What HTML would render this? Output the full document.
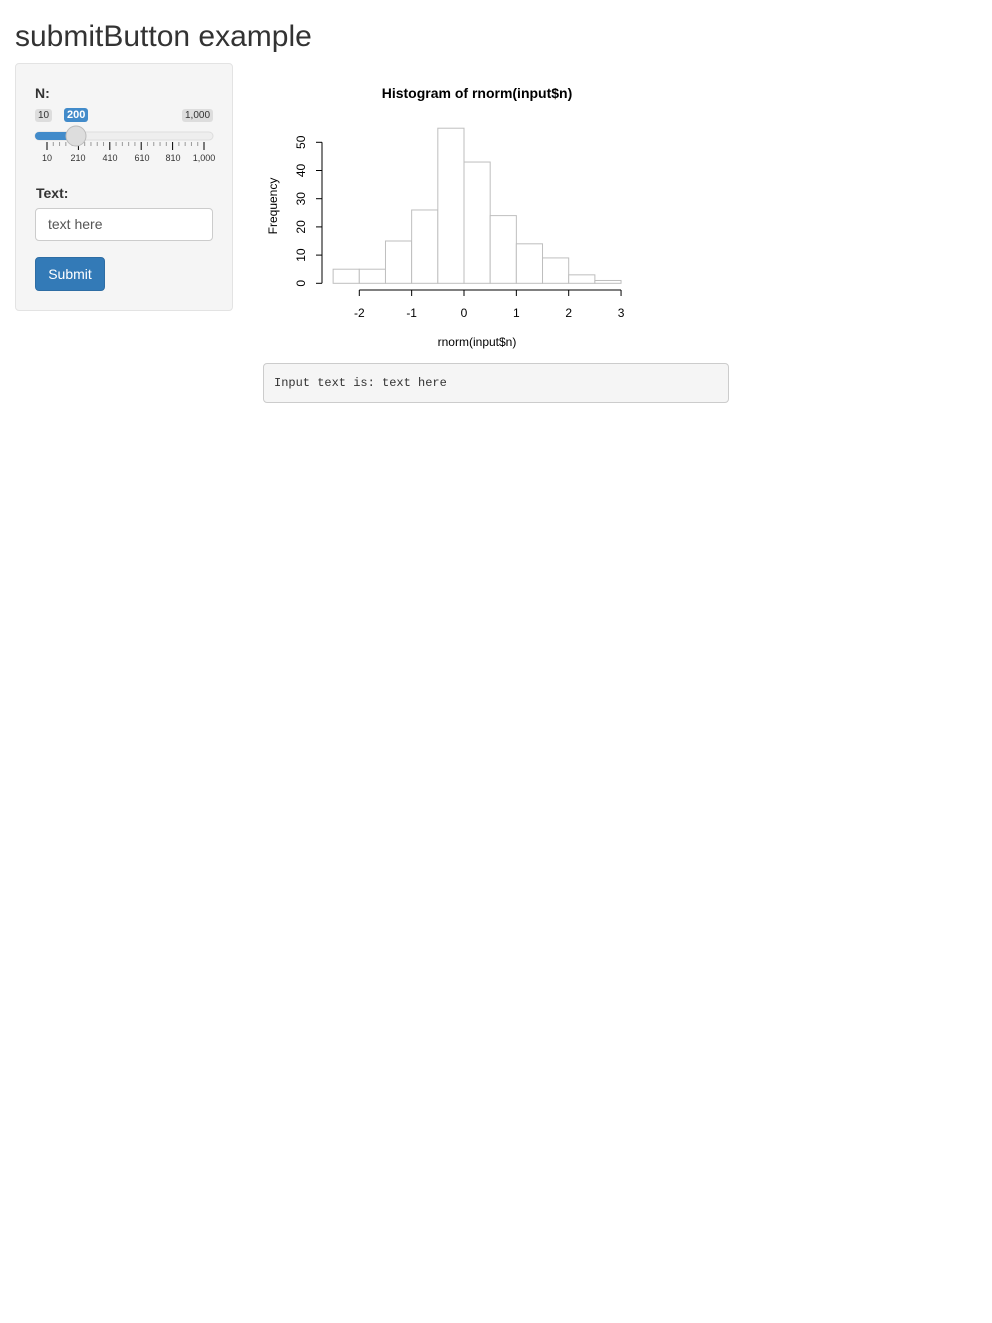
<!DOCTYPE html>
<html><head><meta charset="utf-8"><style>
body{margin:0;background:#fff;font-family:"Liberation Sans",sans-serif;color:#333;width:992px;height:1323px;position:relative}
h2{position:absolute;left:15px;top:20px;margin:0;font-size:30px;font-weight:400}
.well{position:absolute;left:15px;top:63px;width:216px;height:246px;background:#f5f5f5;border:1px solid #e3e3e3;border-radius:4px}
.lbl{position:absolute;font-weight:700;font-size:14px}
.tag{position:absolute;font-size:10px;padding:1px 3px;border-radius:3px;background:#ddd;color:#333}
.inp{position:absolute;left:35px;top:208px;width:178px;height:33px;border:1px solid #ccc;border-radius:4px;background:#fff;box-sizing:border-box;padding:7px 12px;font-size:14px;color:#555}
.btn{position:absolute;left:35px;top:257px;width:70px;height:34px;background:#337ab7;border:1px solid #2e6da4;border-radius:4px;color:#fff;font-size:14px;box-sizing:border-box;text-align:center;line-height:32px}
.out{position:absolute;left:263px;top:363px;width:466px;height:40px;background:#f5f5f5;border:1px solid #ccc;border-radius:4px;font-family:"Liberation Mono",monospace;font-size:12px;padding:12px 10px;box-sizing:border-box}
</style></head><body>
<h2>submitButton example</h2>
<div class="well"></div>
<div class="lbl" style="left:35px;top:85px">N:</div>
<span class="tag" style="left:35px;top:109px">10</span>
<span class="tag" style="left:64px;top:108px;background:#428bca;color:#fff;font-weight:700;font-size:11px">200</span>
<span class="tag" style="left:182px;top:109px">1,000</span>
<svg style="position:absolute;left:30px;top:122px" width="200" height="45">
<rect x="5" y="10" width="178" height="8" rx="4" fill="#eee" stroke="#ddd"/>
<rect x="5" y="10" width="42" height="8" rx="4" fill="#428bca"/>
<g stroke="#000" stroke-width="1" id="ticks"></g>
<circle cx="46" cy="14" r="10" fill="#ddd" stroke="#bbb"/>
<g font-size="9" fill="#333" text-anchor="middle"><text x="17" y="39">10</text><text x="48" y="39">210</text><text x="80" y="39">410</text><text x="112" y="39">610</text><text x="143" y="39">810</text><text x="174" y="39">1,000</text></g>
</svg>
<div class="lbl" style="left:36px;top:185px">Text:</div>
<div class="inp">text here</div>
<div class="btn">Submit</div>
<svg id="chart" style="position:absolute;left:0;top:0" width="992" height="420">
<text x="477" y="98" text-anchor="middle" font-weight="700" font-size="14" fill="#000">Histogram of rnorm(input$n)</text>
<text x="477" y="346" text-anchor="middle" font-size="12" fill="#000">rnorm(input$n)</text>
<text transform="translate(277,206) rotate(-90)" text-anchor="middle" font-size="12" fill="#000">Frequency</text>
</svg>
<div class="out">Input text is: text here</div>
<script>
const binStarts=[-2.5,-2,-1.5,-1,-0.5,0,0.5,1,1.5,2,2.5];
const counts=[5,5,15,26,55,43,24,14,9,3,1];
const xTicks=[-2,-1,0,1,2,3];
const yTicks=[0,10,20,30,40,50];
const binWidth=0.5;
const NS="http://www.w3.org/2000/svg";
const svg=document.getElementById('chart');
const sx=v=>359.3+(v+2)*52.35, sy=v=>283.3-v*2.82;
function mk(t,a){const e=document.createElementNS(NS,t);for(const k in a)e.setAttribute(k,a[k]);svg.appendChild(e);return e;}
binStarts.forEach((b,i)=>{const r=mk('rect',{x:sx(b),y:sy(counts[i]),width:sx(b+binWidth)-sx(b),height:sy(0)-sy(counts[i]),fill:'#fff',stroke:'#bebebe'});

});
let xa=mk('line',{x1:sx(xTicks[0]),x2:sx(xTicks[xTicks.length-1]),y1:290,y2:290,stroke:'#000'});


xTicks.forEach(t=>{mk('line',{x1:sx(t),x2:sx(t),y1:290,y2:296,stroke:'#000'});const e=mk('text',{x:sx(t),y:317,'text-anchor':'middle','font-size':12});e.textContent=t;

});
let ya=mk('line',{x1:322,x2:322,y1:sy(yTicks[0]),y2:sy(yTicks[yTicks.length-1]),stroke:'#000'});


yTicks.forEach(t=>{mk('line',{x1:316,x2:322,y1:sy(t),y2:sy(t),stroke:'#000'});const e=mk('text',{transform:`translate(305,${sy(t)}) rotate(-90)`,'text-anchor':'middle','font-size':12});e.textContent=t;

});
const g=document.getElementById('ticks');
for(let i=0;i<=25;i++){const x=17+i*6.28;const l=document.createElementNS(NS,'line');const big=i%5==0;l.setAttribute('x1',x);l.setAttribute('x2',x);l.setAttribute('y1',20);l.setAttribute('y2',big?28:24);l.setAttribute('stroke',big?'#000':'#999');g.appendChild(l);}
</script>
</body></html>
